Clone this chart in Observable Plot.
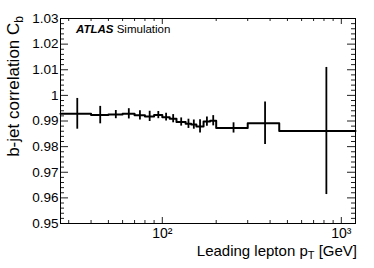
<!DOCTYPE html>
<html><head><meta charset="utf-8">
<script src="https://cdn.jsdelivr.net/npm/d3@7"></script>
<script src="https://cdn.jsdelivr.net/npm/@observablehq/plot@0.6"></script>
<style>
html,body{margin:0;padding:0;background:#fff;}
#chart svg{display:block;}
</style></head><body><div id="chart"></div>
<script>
// bin edges of leading lepton pT [GeV]
const binEdges = [27,40,50,60,70,80,90,100,110,120,135,145,155,170,185,200,300,450,1200];
// error-bar positions
const binCenters = [33.5,45,55,65,75,85,95,105,115,127.5,140,150,162.5,177.5,192.5,250,375,825];
// C_b values per bin
const cbValues = [0.9928,0.9923,0.9925,0.9928,0.9922,0.9918,0.9923,0.9915,0.9909,0.9896,0.9889,0.9886,0.9879,0.9898,0.9901,0.9873,0.9891,0.9861];
// statistical uncertainties
const cbErrors = [0.0060,0.0034,0.0016,0.0020,0.0018,0.0020,0.0014,0.0015,0.0016,0.0016,0.0018,0.0018,0.0026,0.0018,0.0020,0.0020,0.0083,0.0248];
// axis ticks
const yTicks = [0.95,0.96,0.97,0.98,0.99,1.00,1.01,1.02,1.03];
const yTickLabels = ["0.95","0.96","0.97","0.98","0.99","1","1.01","1.02","1.03"];
const xTicks = [100,1000];
const xTickLabels = ["10\u00B2","10\u00B3"];
const xMinorTicks = [30,40,50,60,70,80,90,200,300,400,500,600,700,800,900];

const W = 374, H = 268, mL = 60, mR = 19, mT = 18, mB = 45;
const fw = W - mL - mR, fh = H - mT - mB;

const yMinor = d3.range(0, 41).filter(i => i % 5 !== 0).map(i => 0.95 + i * 0.002);

const stepPts = binEdges.slice(0, -1).map((e, i) => ({x: e, y: cbValues[i]}));
stepPts.push({x: binEdges[binEdges.length - 1], y: cbValues[cbValues.length - 1]});
const errs = binCenters.map((c, i) => ({x: c, y1: cbValues[i] - cbErrors[i], y2: cbValues[i] + cbErrors[i]}));

const chart = Plot.plot({
  width: W, height: H,
  marginLeft: mL, marginRight: mR, marginTop: mT, marginBottom: mB,
  style: {fontFamily: "'Liberation Sans', Arial, sans-serif", fontSize: "13px", background: "white", color: "black"},
  x: {type: "log", domain: [27, 1200]},
  y: {domain: [0.95, 1.03]},
  marks: [
    Plot.tickY(yTicks, {insetRight: fw - 8, stroke: "#222"}),
    Plot.tickY(yTicks, {insetLeft: fw - 8, stroke: "#222"}),
    Plot.tickY(yMinor, {insetRight: fw - 4, stroke: "#222"}),
    Plot.tickY(yMinor, {insetLeft: fw - 4, stroke: "#222"}),
    Plot.tickX(xTicks, {insetTop: fh - 6, stroke: "#222"}),
    Plot.tickX(xTicks, {insetBottom: fh - 6, stroke: "#222"}),
    Plot.tickX(xMinorTicks, {insetTop: fh - 3, stroke: "#222"}),
    Plot.tickX(xMinorTicks, {insetBottom: fh - 3, stroke: "#222"}),
    Plot.axisY({ticks: yTicks, tickSize: 0, tickPadding: 2, fontSize: 13.5, label: null,
      tickFormat: d => yTickLabels[yTicks.findIndex(t => Math.abs(t - d) < 1e-9)]}),
    Plot.axisX({ticks: xTicks, tickSize: 0, tickPadding: 5, fontSize: 14, label: null,
      tickFormat: d => xTickLabels[xTicks.indexOf(d)]}),
    Plot.line(stepPts, {x: "x", y: "y", curve: "step-after", stroke: "black", strokeWidth: 2}),
    Plot.ruleX(errs, {x: "x", y1: "y1", y2: "y2", stroke: "black", strokeWidth: 1.8}),
    Plot.frame({stroke: "black", strokeWidth: 1})
  ]
});
document.getElementById("chart").appendChild(chart);

const svg = d3.select(chart);
const ff = "'Liberation Sans', Arial, sans-serif";
const yt = svg.append("text").attr("transform", "translate(19,16) rotate(-90)")
  .attr("text-anchor", "end").attr("font-size", 17).attr("font-family", ff).attr("fill", "black");
yt.append("tspan").text("b-jet correlation C");
yt.append("tspan").attr("font-size", 12).attr("dy", 4).text("b");

const xt = svg.append("text").attr("x", 357).attr("y", 256)
  .attr("text-anchor", "end").attr("font-size", 15).attr("font-family", ff).attr("fill", "black");
xt.append("tspan").text("Leading lepton p");
xt.append("tspan").attr("font-size", 11).attr("dy", 3).text("T");
xt.append("tspan").attr("dy", -3).text(" [GeV]");

const at = svg.append("text").attr("x", 76).attr("y", 33).attr("text-anchor", "start")
  .attr("font-size", 11.5).attr("font-family", ff).attr("fill", "black");
at.append("tspan").attr("font-weight", "bold").attr("font-style", "italic").text("ATLAS");
at.append("tspan").text(" Simulation");
</script>
</body></html>
